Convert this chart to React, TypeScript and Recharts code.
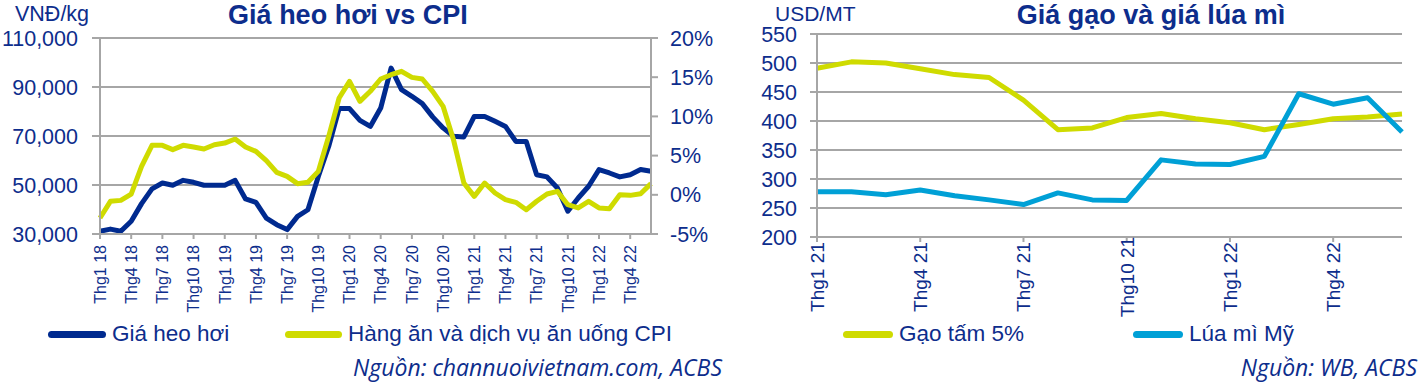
import React from "react";
import { LineChart, Line, XAxis, YAxis, CartesianGrid } from "recharts";

const porkMonths = [
  "Thg1 18","Thg2 18","Thg3 18","Thg4 18","Thg5 18","Thg6 18","Thg7 18","Thg8 18","Thg9 18","Thg10 18","Thg11 18","Thg12 18",
  "Thg1 19","Thg2 19","Thg3 19","Thg4 19","Thg5 19","Thg6 19","Thg7 19","Thg8 19","Thg9 19","Thg10 19","Thg11 19","Thg12 19",
  "Thg1 20","Thg2 20","Thg3 20","Thg4 20","Thg5 20","Thg6 20","Thg7 20","Thg8 20","Thg9 20","Thg10 20","Thg11 20","Thg12 20",
  "Thg1 21","Thg2 21","Thg3 21","Thg4 21","Thg5 21","Thg6 21","Thg7 21","Thg8 21","Thg9 21","Thg10 21","Thg11 21","Thg12 21",
  "Thg1 22","Thg2 22","Thg3 22","Thg4 22","Thg5 22","Thg6 22",
];
const porkPrice = [
  31100,32000,31100,35200,42400,48400,50800,49900,51900,51100,49900,49900,
  49900,51900,44300,42900,36500,33800,31800,37200,39900,53500,65800,81200,
  81200,76400,73900,81400,97700,88900,86200,83200,77800,73300,69900,69600,
  78000,78000,76000,73900,67800,67800,54200,53300,48800,39300,44700,49500,
  56300,54900,53300,54200,56300,55600,
];
const foodCpi = [
  -2.96,-0.83,-0.71,0.1,3.63,6.31,6.31,5.76,6.31,6.1,5.84,6.39,
  6.6,7.12,6.1,5.54,4.35,2.86,2.35,1.42,1.59,2.99,7.46,12.35,
  14.47,11.92,13.2,14.77,15.32,15.75,14.98,14.77,13.2,11.28,7.03,1.5,
  -0.2,1.5,0.23,-0.62,-0.96,-1.9,-0.83,0.1,0.44,-1.26,-1.68,-0.83,
  -1.68,-1.77,0.02,-0.07,0.14,1.42,
];
const porkTicks = [30000, 50000, 70000, 90000, 110000];
const cpiTicks = [-5, 0, 5, 10, 15, 20];

const grainMonths = [
  "Thg1 21","Thg2 21","Thg3 21","Thg4 21","Thg5 21","Thg6 21","Thg7 21","Thg8 21","Thg9 21","Thg10 21","Thg11 21","Thg12 21",
  "Thg1 22","Thg2 22","Thg3 22","Thg4 22","Thg5 22","Thg6 22",
];
const rice5 = [491,502,500,490,480,475,436,385,388,406,413,404,397,385,394,404,407,412];
const usWheat = [278,278,273,281,271,264,256,276,264,263,333,326,325,339,447,429,440,381];
const grainTicks = [200, 250, 300, 350, 400, 450, 500, 550];

const FONT = "'Liberation Sans', Arial, sans-serif";
const SRC_FONT = "'Open Sans', 'Noto Sans', sans-serif";
const TXT = "#0d2d8c";
const GRID = "#a6a6a6";
const NAVY = "#002a8f";
const LIME = "#cfdb00";
const CYAN = "#00a0d6";

const porkData = porkMonths.map((m, i) => ({ m, pork: porkPrice[i], cpi: foodCpi[i] }));
const grainData = grainMonths.map((m, i) => ({ m, rice: rice5[i], wheat: usWheat[i] }));

// Rotated month label; "anchor" end = top-aligned, middle = centred at y + shift
const makeXTick = (fontSize: number, anchor: string, shift: number) => (props: any) => {
  const { x, y, payload } = props;
  const yy = y + shift;
  return (
    <text
      x={x}
      y={yy}
      transform={`rotate(-90, ${x}, ${yy})`}
      textAnchor={anchor}
      dy="0.36em"
      fill={TXT}
      fontSize={fontSize}
      fontFamily={FONT}
    >
      {payload.value}
    </text>
  );
};
const LeftXTick = makeXTick(16, "end", 0);
const RightXTick = makeXTick(19, "middle", 32);

const fmtThousands = (v: number) => v.toLocaleString("en-US");
const fmtPct = (v: number) => `${v}%`;

const LegendItem = ({ left, color, label, lineW }: any) => (
  <div style={{ position: "absolute", left, top: 322, display: "flex", alignItems: "center", height: 24 }}>
    <span style={{ display: "inline-block", width: lineW, height: 7, borderRadius: 4, background: color, marginRight: 6 }} />
    <span style={{ fontSize: 22.5, color: TXT, fontFamily: FONT, whiteSpace: "nowrap" }}>{label}</span>
  </div>
);

export default function App() {
  const tickStyle = { fill: TXT, fontSize: 21.5, fontFamily: FONT };
  return (
    <div style={{ position: "absolute", left: 0, top: 0, width: 1423, height: 382, background: "#fff", overflow: "hidden", fontFamily: FONT }}>
      {/* Left chart */}
      <div style={{ position: "absolute", left: 0, top: 0 }}>
        <LineChart width={720} height={382} data={porkData} margin={{ top: 38, right: 0, bottom: 0, left: 0 }}>
          <CartesianGrid yAxisId="left" vertical={false} stroke={GRID} strokeWidth={2} />
          <XAxis
            dataKey="m"
            interval={2}
            height={148}
            tick={<LeftXTick />}
            tickSize={5}
            tickMargin={6}
            stroke={GRID}
            strokeWidth={2}
            tickLine={{ stroke: GRID, strokeWidth: 2 }}
            padding={{ left: 0, right: 0 }}
          />
          <YAxis
            yAxisId="left"
            domain={[30000, 110000]}
            ticks={porkTicks}
            tickFormatter={fmtThousands}
            width={100}
            tick={tickStyle}
            tickSize={8}
            tickMargin={14}
            stroke={GRID}
            strokeWidth={2}
            interval={0}
          />
          <YAxis
            yAxisId="right"
            orientation="right"
            domain={[-5, 20]}
            ticks={cpiTicks}
            tickFormatter={fmtPct}
            width={69}
            tick={tickStyle}
            tickSize={7}
            tickMargin={12}
            stroke={GRID}
            strokeWidth={2}
            interval={0}
          />
          <Line yAxisId="left" dataKey="pork" stroke={NAVY} strokeWidth={5} dot={false} isAnimationActive={false} strokeLinejoin="round" />
          <Line yAxisId="right" dataKey="cpi" stroke={LIME} strokeWidth={5} dot={false} isAnimationActive={false} strokeLinejoin="round" />
        </LineChart>
      </div>
      <div style={{ position: "absolute", left: 15, top: 2, fontSize: 21.5, color: TXT }}>VNĐ/kg</div>
      <div style={{ position: "absolute", left: 148, width: 400, top: 0, textAlign: "center", fontSize: 27, fontWeight: "bold", color: TXT }}>Giá heo hơi vs CPI</div>
      <LegendItem left={48} color={NAVY} label="Giá heo hơi" lineW={58} />
      <LegendItem left={285} color={LIME} label="Hàng ăn và dịch vụ ăn uống CPI" lineW={57} />
      <div style={{ position: "absolute", right: 1423 - 722, top: 351, fontSize: 23, fontStyle: "italic", color: TXT, fontFamily: SRC_FONT, whiteSpace: "nowrap" }}>
        Nguồn: channuoivietnam.com, ACBS
      </div>

      {/* Right chart */}
      <div style={{ position: "absolute", left: 720, top: 0 }}>
        <LineChart width={703} height={382} data={grainData} margin={{ top: 34, right: 21, bottom: 0, left: 0 }}>
          <CartesianGrid vertical={false} stroke={GRID} strokeWidth={2} />
          <XAxis
            dataKey="m"
            interval={2}
            height={145}
            tick={<RightXTick />}
            tickSize={5}
            tickMargin={3}
            stroke={GRID}
            strokeWidth={2}
            tickLine={{ stroke: GRID, strokeWidth: 2 }}
          />
          <YAxis
            domain={[200, 550]}
            ticks={grainTicks}
            width={97}
            tick={tickStyle}
            tickSize={7}
            tickMargin={13}
            stroke={GRID}
            strokeWidth={2}
            interval={0}
          />
          <Line dataKey="rice" stroke={LIME} strokeWidth={5} dot={false} isAnimationActive={false} strokeLinejoin="round" />
          <Line dataKey="wheat" stroke={CYAN} strokeWidth={5} dot={false} isAnimationActive={false} strokeLinejoin="round" />
        </LineChart>
      </div>
      <div style={{ position: "absolute", left: 775, top: 2, fontSize: 21, color: TXT }}>USD/MT</div>
      <div style={{ position: "absolute", left: 951, width: 400, top: 0, textAlign: "center", fontSize: 27, fontWeight: "bold", color: TXT }}>Giá gạo và giá lúa mì</div>
      <LegendItem left={843} color={LIME} label="Gạo tấm 5%" lineW={50} />
      <LegendItem left={1133} color={CYAN} label="Lúa mì Mỹ" lineW={50} />
      <div style={{ position: "absolute", right: 1423 - 1417, top: 351, fontSize: 23, fontStyle: "italic", color: TXT, fontFamily: SRC_FONT, whiteSpace: "nowrap" }}>
        Nguồn: WB, ACBS
      </div>
    </div>
  );
}
